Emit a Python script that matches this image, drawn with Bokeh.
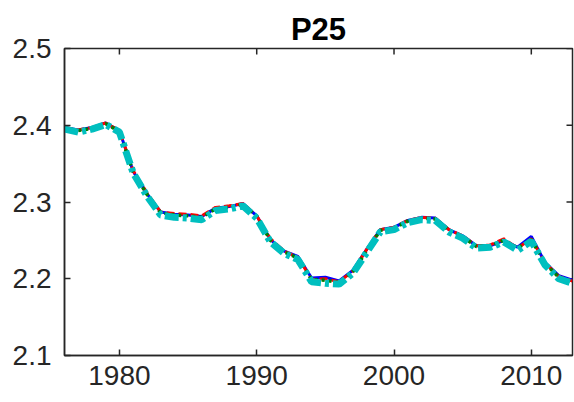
import math
from bokeh.plotting import figure
from bokeh.models import Range1d, FixedTicker
from bokeh.embed import file_html
from bokeh.resources import INLINE

years = list(range(1976, 2014))
blue_vals = [2.397, 2.394, 2.397, 2.403, 2.393, 2.340, 2.311, 2.287, 2.284,
             2.283, 2.281, 2.292, 2.294, 2.298, 2.282, 2.251, 2.236, 2.229, 2.201,
             2.202, 2.197, 2.211, 2.238, 2.264, 2.267, 2.276, 2.280, 2.279, 2.264,
             2.256, 2.243, 2.243, 2.250, 2.241, 2.255, 2.221, 2.204, 2.198]
red_vals = [2.397, 2.394, 2.397, 2.403, 2.393, 2.341, 2.312, 2.287, 2.285,
            2.284, 2.282, 2.293, 2.295, 2.298, 2.282, 2.252, 2.236, 2.228, 2.199,
            2.200, 2.196, 2.210, 2.238, 2.264, 2.267, 2.276, 2.280, 2.279, 2.264,
            2.256, 2.243, 2.244, 2.252, 2.240, 2.252, 2.221, 2.203, 2.197]
green_vals = [2.396, 2.393, 2.396, 2.402, 2.392, 2.339, 2.310, 2.286, 2.283,
              2.282, 2.280, 2.291, 2.293, 2.297, 2.281, 2.250, 2.235, 2.227, 2.199,
              2.198, 2.195, 2.209, 2.236, 2.263, 2.266, 2.275, 2.279, 2.278, 2.263,
              2.255, 2.242, 2.243, 2.250, 2.240, 2.251, 2.220, 2.202, 2.196]
cyan_vals = [2.395, 2.391, 2.395, 2.401, 2.391, 2.338, 2.308, 2.283, 2.280,
             2.279, 2.277, 2.289, 2.291, 2.295, 2.279, 2.248, 2.233, 2.225, 2.196,
             2.194, 2.193, 2.207, 2.234, 2.261, 2.264, 2.273, 2.277, 2.276, 2.261,
             2.253, 2.240, 2.241, 2.248, 2.237, 2.249, 2.218, 2.200, 2.194]
x_ticks = [1980, 1990, 2000, 2010]
y_ticks = [2.1, 2.2, 2.3, 2.4, 2.5]

FONT = "Liberation Sans"
AX = "#262626"

p = figure(width=574, height=402, output_backend="svg", toolbar_location=None,
           x_range=Range1d(years[0], years[-1]), y_range=Range1d(y_ticks[0], y_ticks[-1]),
           title="P25", min_border_left=64, min_border_right=2,
           min_border_top=48, min_border_bottom=47)
p.title.text_font = FONT
p.title.text_font_size = "31px"
p.title.text_font_style = "bold"
p.title.align = "center"
p.title.text_color = "black"
p.title.standoff = 4
p.xgrid.visible = False
p.ygrid.visible = False
p.outline_line_color = AX
p.outline_line_width = 1.5
p.background_fill_color = "white"
p.border_fill_color = "white"

for ax, t in ((p.xaxis[0], x_ticks), (p.yaxis[0], y_ticks)):
    ax.ticker = FixedTicker(ticks=t)
    ax.major_tick_in = 6
    ax.major_tick_out = 0
    ax.minor_tick_line_color = None
    ax.axis_line_color = AX
    ax.axis_line_width = 1.5
    ax.major_tick_line_color = AX
    ax.major_tick_line_width = 1.5
    ax.major_label_text_font = FONT
    ax.major_label_text_font_size = "28px"
    ax.major_label_text_color = "#262626"
p.xaxis[0].major_label_standoff = 10
p.yaxis[0].major_label_standoff = 13

# inward tick marks on the top and right edges of the box
p.scatter(x_ticks, [y_ticks[-1]] * len(x_ticks), marker="dash", angle=math.pi / 2,
          size=12, line_color=AX, line_width=1.5)
p.scatter([years[-1]] * len(y_ticks), y_ticks, marker="dash", angle=0,
          size=12, line_color=AX, line_width=1.5)

p.line(years, blue_vals, line_color="#0000FF", line_width=3)
p.line(years, red_vals, line_color="#FF0000", line_width=3, line_dash="8 4")
p.line(years, green_vals, line_color="#008000", line_width=3.5, line_dash="3 4")
p.line(years, cyan_vals, line_color="#00BFBF", line_width=7, line_dash="14 4 4 4")

open("out.html", "w").write(file_html(p, INLINE))
